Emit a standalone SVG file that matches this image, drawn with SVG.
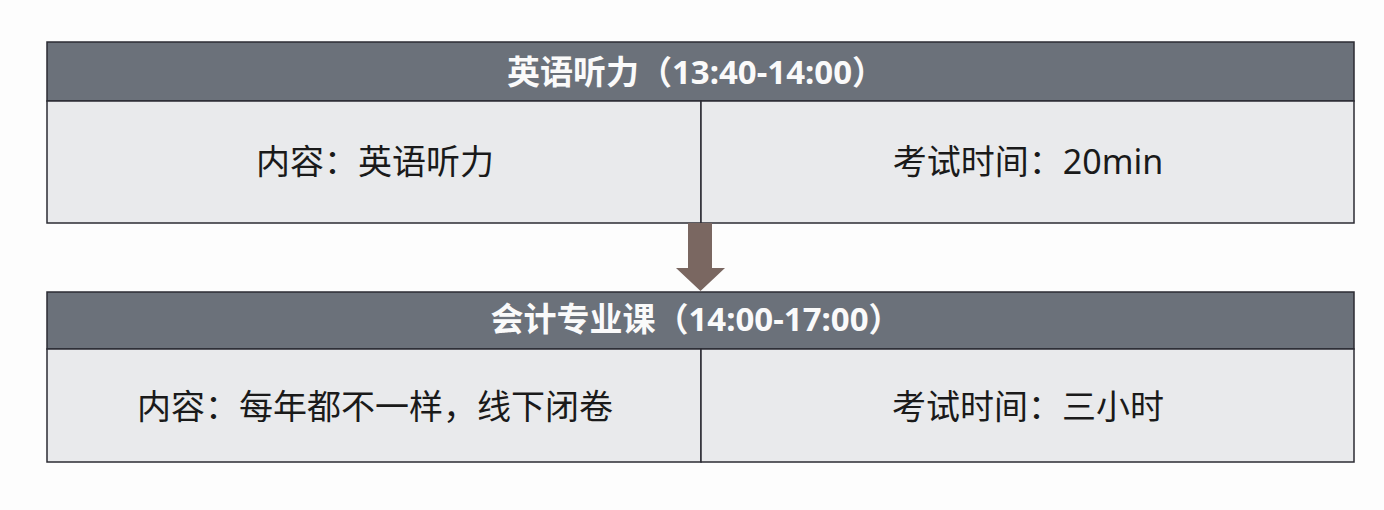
<svg xmlns="http://www.w3.org/2000/svg" width="1384" height="510" viewBox="0 0 1384 510">
<style>
.hdr{fill:#6b717a;stroke:#2b2b33;stroke-width:1.5}
.cell{fill:#e9eaec;stroke:#2b2b33;stroke-width:1.5}
.ht{font-family:"Noto Sans","Noto Sans CJK SC",sans-serif;font-weight:bold;font-size:33px;fill:#fafafa;text-anchor:middle}
.bt{font-family:"Noto Sans","Noto Sans CJK SC",sans-serif;font-size:34px;fill:#1a1a1a;text-anchor:middle}
</style>
<rect width="1384" height="510" fill="#fdfdfd"/>
<g id="block1">
<rect class="hdr" x="47" y="42" width="1307" height="59"/>
<text class="ht" x="696" y="84">英语听力（13:40-14:00）</text>
<g id="block1-content">
<rect class="cell" x="47" y="101" width="654" height="122"/>
<text class="bt" x="375" y="174">内容：英语听力</text>
</g>
<g id="block1-time">
<rect class="cell" x="701" y="101" width="653" height="122"/>
<text class="bt" x="1028" y="174">考试时间：20min</text>
</g>
</g>
<g id="connectors">
<polygon points="688,223 712,223 712,268 725,268 700.5,291 676,268 688,268" fill="#7a6761"/>
</g>
<g id="block2">
<rect class="hdr" x="47" y="292" width="1307" height="57"/>
<text class="ht" x="696" y="331">会计专业课（14:00-17:00）</text>
<g id="block2-content">
<rect class="cell" x="47" y="349" width="654" height="113"/>
<text class="bt" x="375" y="419">内容：每年都不一样，线下闭卷</text>
</g>
<g id="block2-time">
<rect class="cell" x="701" y="349" width="653" height="113"/>
<text class="bt" x="1028" y="419">考试时间：三小时</text>
</g>
</g>
</svg>
